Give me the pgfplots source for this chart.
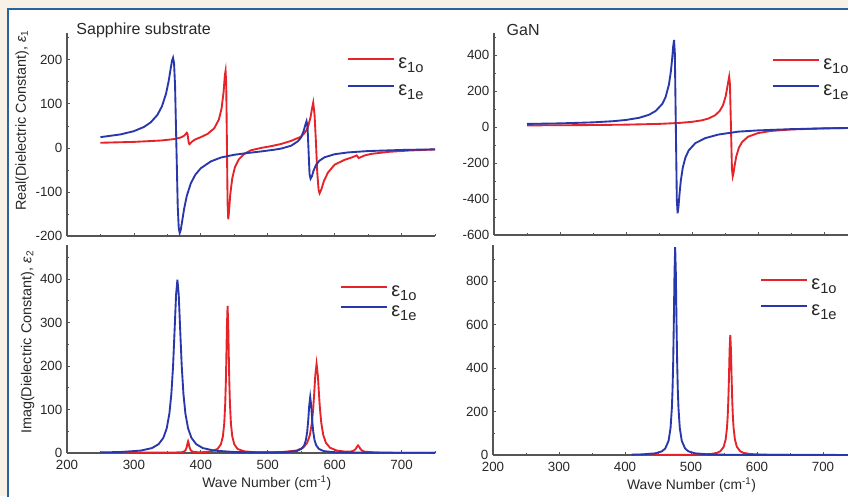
\documentclass[border=0pt]{standalone}
\usepackage{fontspec}
\setmainfont{Liberation Sans}
\usepackage{pgfplots}
\pgfplotsset{compat=1.18}
\definecolor{bgc}{RGB}{248,242,230}
\definecolor{framec}{RGB}{40,100,160}
\definecolor{cred}{RGB}{230,35,40}
\definecolor{cblue}{RGB}{40,55,170}
\definecolor{axgray}{RGB}{85,85,85}
\definecolor{txt}{RGB}{40,40,40}
\newcommand{\lgo}{\fontsize{15}{16}\selectfont ε\raisebox{-3.2pt}{\fontsize{11}{11}\selectfont 1o}}
\newcommand{\lge}{\fontsize{15}{16}\selectfont ε\raisebox{-3.2pt}{\fontsize{11}{11}\selectfont 1e}}
\pgfplotsset{
  myaxis/.style={
    scale only axis,
    xmin=200, xmax=750,
    axis x line*=bottom, axis y line*=left,
    axis line style={axgray, line width=0.8pt},
    tick style={axgray, line width=0.6pt},
    major tick length=2.4pt, minor tick length=1.5pt,
    tick align=inside,
    xtick={200,300,...,700},
    minor xtick={250,350,...,750},
    tick label style={font=\fontsize{10}{12}\selectfont, text=txt},
    xticklabel style={yshift=-1.5pt},
    /pgf/number format/assume math mode=true,
    xlabel style={font=\fontsize{10.4}{12}\selectfont, text=txt},
    ylabel style={font=\fontsize{10.8}{12}\selectfont, text=txt},
    title style={font=\fontsize{12}{14}\selectfont, text=txt, anchor=west},
    every axis plot/.append style={line width=1.4pt, mark=none},
    legend cell align=left,
    legend image code/.code={\draw[##1] (0pt,0pt) -- (34.5pt,0pt);},
    legend style={draw=none, fill=none, inner sep=0pt, outer sep=0pt, anchor=north west,
      nodes={inner sep=0pt, text height=15pt, text depth=1pt, text=txt},
      /tikz/every odd column/.append style={column sep=2.5pt}},
  }
}
\begin{document}
\begin{tikzpicture}[x=0.75pt,y=0.75pt]
\useasboundingbox (0,0) rectangle (848,496);
\clip (0,0) rectangle (848,496);
\fill[bgc] (0,0) rectangle (848,496);
\fill[white] (8,-5) rectangle (860,487);
\draw[framec, line width=1.2pt] (8,-5) -- (8,487) -- (860,487);

% Top-left: sapphire real
\begin{axis}[myaxis, at={(50.25pt,195pt)}, anchor=south west,
  width=276pt, height=152.25pt,
  ymin=-200, ymax=261,
  ytick={-200,-100,0,100,200}, minor ytick={-150,-50,50,150,250},
  xticklabels={},
  title={Sapphire substrate}, title style={at={(axis description cs:0.013,0.976)}},
  ylabel={Real(Dielectric Constant), \textit{ε}\raisebox{-1.5pt}{\fontsize{7.5}{7.5}\selectfont 1}},
  ylabel style={at={(axis description cs:-0.122,0.567)}, anchor=center},
  legend style={at={(axis description cs:0.761,0.925)}, row sep=4.25pt}]
\addplot[cred] coordinates {(250,11.7)(300,13.7)(340,16.8)(360,20)(370,23.6)(375,27.6)(378,32.4)(379,34.5)(380,33)(381,22)(382,11)(383,8.4)(384.5,10.6)(387,14.7)(392,19.5)(400,24.5)(410,31.7)(420,44.5)(427,64.5)(431,89.5)(434,126.5)(436,165.9)(437,175)(438,144.7)(439,9.3)(440,-125.9)(441,-162)(442,-146.4)(444,-105.9)(447,-68.8)(451,-43.6)(457,-25.4)(465,-13.4)(475,-5.3)(490,0)(505,4)(520,9)(535,16)(549,25)(554,32)(558,40)(561,52)(564,70)(566.5,92)(568,103)(570,75)(572,15)(574,-55)(576,-95)(577.5,-103)(580,-95)(584,-75)(590,-56)(600,-38)(615,-27)(625,-22)(630,-19)(633,-17)(636,-23)(639,-21)(645,-17)(655,-13.5)(680,-9)(710,-6)(750,-3.5)};
\addlegendentry{\lgo}
\addplot[cblue] coordinates {(250,24.5)(280,30.7)(300,38.1)(315,47.6)(325,57.9)(335,74.7)(342,94.8)(348,123.1)(352,152.3)(355,180.4)(357,198.5)(358.5,204.8)(360,192.3)(361.5,142)(363.5,4.4)(365.5,-132.6)(367,-181.7)(368.5,-193.2)(370,-186.2)(372,-167.5)(375,-138.7)(379,-109.1)(385,-80.5)(392,-60.3)(400,-46.1)(415,-30.6)(430,-21.8)(450,-15.5)(470,-11.5)(490,-8)(510,-4)(520,-1.5)(535,5)(545,15)(550,24)(554,40)(556.5,54)(558,60.9)(559.5,47.6)(561,-5.9)(562.5,-59.4)(564,-70)(566,-64.7)(568.5,-51.6)(572,-39.3)(577,-29.3)(585,-21.2)(600,-14.3)(620,-10.2)(650,-7.1)(700,-4.6)(750,-3.2)};
\addlegendentry{\lge}
\end{axis}

% Top-right: GaN real
\begin{axis}[myaxis, at={(370.5pt,195.75pt)}, anchor=south west,
  width=272.25pt, height=151.5pt,
  ymin=-600, ymax=522,
  ytick={-600,-400,-200,0,200,400}, minor ytick={-500,-300,-100,100,300,500},
  xticklabels={},
  title={GaN}, title style={at={(axis description cs:0.022,0.9755)}},
  legend style={at={(axis description cs:0.766,0.919)}, row sep=3.5pt}]
\addplot[cred] coordinates {(250,9)(300,9.5)(350,10.8)(400,12.9)(450,17.1)(480,22.3)(500,28.6)(515,37)(525,47)(535,65)(542,89)(547,121)(551,170)(553.5,221)(556.3,279)(557.5,237)(559,2)(560.5,-233)(561.7,-274)(563,-253)(564.5,-216)(567,-165)(571,-115)(576,-83)(585,-54)(600,-34)(620,-22)(650,-14)(700,-7.4)(750,-4.7)};
\addlegendentry{\lgo}
\addplot[cblue] coordinates {(250,17)(300,20)(350,25.7)(380,32)(400,39)(420,51)(435,68)(445,89)(455,128)(460,166)(465,235)(468,309)(470,382)(471.5,448)(472.8,483)(474,410)(475.5,2)(477,-406)(478.2,-479)(479.5,-444)(481,-375)(483,-300)(486,-226)(490,-170)(495,-130)(505,-90)(520,-62)(540,-42)(570,-26)(600,-19)(650,-12)(700,-8)(750,-5)};
\addlegendentry{\lge}
\end{axis}

% Bottom-left: sapphire imaginary
\begin{axis}[myaxis, at={(50.25pt,32.25pt)}, anchor=south west,
  width=276pt, height=156pt,
  ymin=0, ymax=478,
  ytick={0,100,200,300,400}, minor ytick={50,150,250,350,450},
  xlabel={Wave Number (cm\textsuperscript{-1})},
  xlabel style={at={(axis description cs:0.543,-0.144)}, anchor=center},
  ylabel={Imag(Dielectric Constant), \textit{ε}\raisebox{-1.5pt}{\fontsize{7.5}{7.5}\selectfont 2}},
  ylabel style={at={(axis description cs:-0.107,0.531)}, anchor=center},
  legend style={at={(axis description cs:0.742,0.8495)}, row sep=-1pt}]
\addplot[cred] coordinates {(250,0.4)(320,0.8)(360,1)(373,2)(377,5.8)(379,13.7)(380,21.5)(381,26.7)(382,21.5)(383,13.7)(385,5.9)(389,2.3)(400,1.5)(415,3.5)(425,9.3)(430,20)(433,38.3)(435,67.7)(436.5,114.3)(437.5,169)(438,206)(439,291.5)(440,338)(441,291.5)(442,206)(442.5,169)(443.5,114.3)(445,67.7)(447,38.3)(450,20)(455,9.2)(465,3.8)(480,1.9)(503,1.5)(523,2.4)(543,5.7)(553,12.3)(559,23.4)(563,41.2)(566,69.5)(568,102.7)(569.5,137.8)(571,176.9)(573,205.1)(575,176.9)(576.5,137.8)(578,102.7)(580,69.5)(583,41.2)(587,23.4)(593,12.2)(603,5.7)(615,3.3)(625,3.6)(629,5.7)(631.5,9.5)(633,13.5)(635,17.4)(637,13.4)(638.5,9.4)(641,5.4)(645,3)(660,1.2)(700,0.5)(750,0.3)};
\addlegendentry{\lgo}
\addplot[cblue] coordinates {(250,1.3)(280,2.3)(310,5.5)(327,11.3)(337,20.4)(344,34.8)(349,56.4)(353,90.3)(356,136.4)(358.5,199)(361,288.7)(363,363.6)(365,398)(367,363.6)(369,288.7)(371.5,199)(374,136.4)(377,90.3)(381,56.4)(386,34.8)(393,20.4)(403,11.3)(420,5.5)(450,2.3)(480,1.3)(510,1.5)(528.5,2.2)(543.5,4.6)(550.5,9.5)(554.5,17.5)(557,29.5)(559,49)(560.5,74.5)(562,108.7)(563.5,128.7)(565,108.7)(566.5,74.5)(568,49)(570,29.5)(572.5,17.5)(576.5,9.4)(583.5,4.4)(598.5,1.9)(650,0.8)(750,0.4)};
\addlegendentry{\lge}
\end{axis}

% Bottom-right: GaN imaginary
\begin{axis}[myaxis, at={(369.75pt,30.75pt)}, anchor=south west,
  width=272.25pt, height=157.5pt,
  ymin=0, ymax=965,
  ytick={0,200,400,600,800}, minor ytick={100,300,500,700,900},
  xlabel={Wave Number (cm\textsuperscript{-1})},
  xlabel style={at={(axis description cs:0.547,-0.143)}, anchor=center},
  legend style={at={(axis description cs:0.736,0.884)}, row sep=3.5pt}]
\addplot[cred] coordinates {(410,0.3)(480,0.6)(509.5,1.6)(529.5,4.4)(539.5,9.9)(544.5,17.3)(549.5,37.5)(552.5,71.5)(554.5,125)(555.5,173)(556.5,247)(557.5,356)(558.5,485)(559.5,552)(560.5,485)(561.5,356)(562.5,247)(563.5,173)(564.5,125)(566.5,71.5)(569.5,37.5)(574.5,17.3)(579.5,9.9)(589.5,4.4)(609.5,1.6)(650,0.6)(750,0.2)};
\addlegendentry{\lgo}
\addplot[cblue] coordinates {(410,1.6)(426,2.8)(446,7.7)(456,17)(461,30)(466,65)(469,124)(471,216)(472,299)(473,427)(474,617)(475,840)(476,955)(477,840)(478,617)(479,427)(480,299)(481,216)(483,124)(486,65)(491,30)(496,17)(506,7.7)(526,2.8)(556,1.1)(650,0.3)(750,0.15)};
\addlegendentry{\lge}
\end{axis}
\end{tikzpicture}
\end{document}
